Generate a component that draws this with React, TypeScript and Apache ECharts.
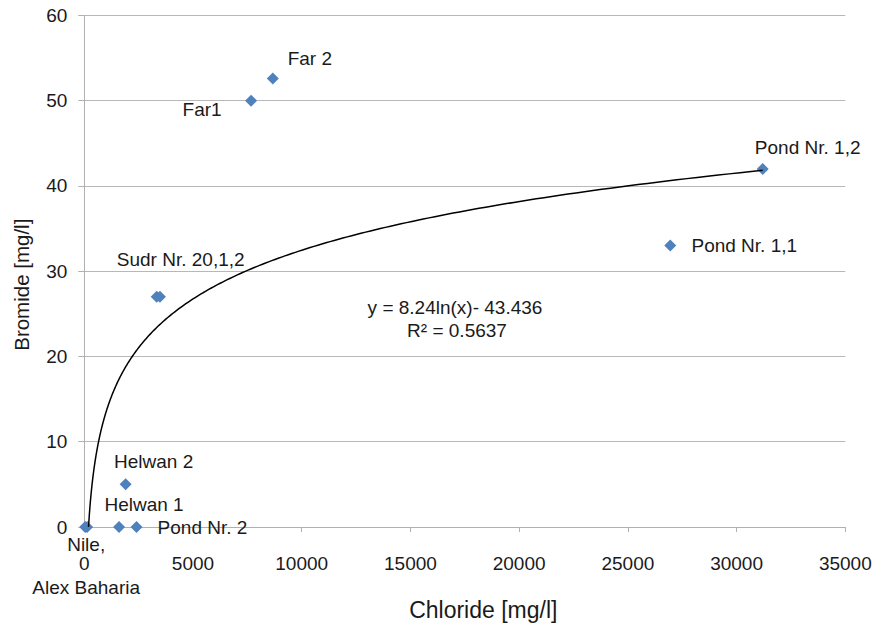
import React, { useEffect, useRef } from "react";
import * as echarts from "echarts";

const names = ["Nile", "Alex Baharia", "Helwan 1", "Pond Nr. 2", "Helwan 2", "Sudr Nr. 20,1", "Sudr Nr. 20,2", "Far1", "Far 2", "Pond Nr. 1,2", "Pond Nr. 1,1"];
const chloride = [40, 130, 1600, 2400, 1900, 3330, 3480, 7670, 8670, 31200, 26950];
const bromide = [0, 0, 0, 0, 5, 27, 27, 50, 52.6, 42, 33];
const labelTexts = ["Nile,\n\nAlex Baharia", "", "Helwan 1", "Pond Nr. 2", "Helwan 2", "Sudr Nr. 20,1,2", "", "Far1", "Far 2", "Pond Nr. 1,2", "Pond Nr. 1,1"];
const xTicks = [0, 5000, 10000, 15000, 20000, 25000, 30000, 35000];
const yTicks = [0, 10, 20, 30, 40, 50, 60];

// Logarithmic trendline shown on the chart: y = 8.24 ln(x) - 43.436
const trendA = 8.24;
const trendB = -43.436;
const trendEquation = "y = 8.24ln(x)- 43.436";
const trendR2 = "R² = 0.5637";

// label offsets (layout, separate from data)
const labelOffsets: number[][] = [
  [1, 39], [0, 0], [25, -23], [66, 0], [28, -23], [24, -37], [0, 0], [-49, 9], [37, -20], [45, -21], [74, 0],
];

const FONT = "'Liberation Sans', Arial, Helvetica, sans-serif";
const TEXT = "#1a1a1a";

export default function App() {
  const ref = useRef<HTMLDivElement>(null);
  useEffect(() => {
    document.body.style.margin = "0";
    const chart = echarts.init(ref.current!, undefined, { renderer: "svg" });

    const xStart = Math.exp(-trendB / trendA);
    const xEnd = Math.max(...chloride);
    const trend: number[][] = [];
    const n = 300;
    for (let i = 0; i <= n; i++) {
      const x = xStart * Math.pow(xEnd / xStart, i / n);
      trend.push([x, trendA * Math.log(x) + trendB]);
    }

    const pts = names.map((nm, i) => ({
      name: nm,
      value: [chloride[i], bromide[i]],
      label: {
        show: labelTexts[i] !== "",
        formatter: labelTexts[i],
        position: "inside",
        offset: labelOffsets[i],
        color: TEXT,
        textBorderWidth: 0,
        textBorderColor: "transparent",
        fontSize: 19,
        fontFamily: FONT,
        lineHeight: 21.5,
      },
    }));

    chart.setOption({
      animation: false,
      backgroundColor: "#ffffff",
      grid: { left: 84.3, right: 36.7, top: 15.4, bottom: 89.3, containLabel: false },
      xAxis: {
        type: "value",
        min: xTicks[0],
        max: xTicks[xTicks.length - 1],
        interval: 5000,
        name: "Chloride [mg/l]",
        nameLocation: "middle",
        nameGap: 71,
        nameTextStyle: { fontSize: 23, color: TEXT, fontFamily: FONT, padding: [0, 0, 0, 37] },
        axisLine: { show: true, lineStyle: { color: "#b0b0b0", width: 1 } },
        axisTick: { show: true, length: 5, lineStyle: { color: "#b0b0b0" } },
        axisLabel: { fontSize: 19, color: TEXT, fontFamily: FONT, margin: 27, formatter: (v: number) => String(v) },
        splitLine: { show: false },
      },
      yAxis: {
        type: "value",
        min: yTicks[0],
        max: yTicks[yTicks.length - 1],
        interval: 10,
        name: "Bromide [mg/l]",
        nameLocation: "middle",
        nameGap: 52,
        nameTextStyle: { fontSize: 20.5, color: TEXT, fontFamily: FONT, padding: [0, 27, 0, 0] },
        axisLine: { show: true, lineStyle: { color: "#b0b0b0", width: 1 } },
        axisTick: { show: true, length: 6, lineStyle: { color: "#b0b0b0" } },
        axisLabel: { fontSize: 19, color: TEXT, fontFamily: FONT, margin: 17, formatter: (v: number) => String(v) },
        splitLine: { show: true, lineStyle: { color: "#b8b8b8", width: 1 } },
      },
      series: [
        {
          type: "line",
          data: trend,
          showSymbol: false,
          symbol: "none",
          lineStyle: { color: "#000000", width: 1.5 },
          z: 3,
          clip: true,
        },
        {
          type: "scatter",
          data: pts,
          symbol: "diamond",
          symbolSize: 12,
          itemStyle: { color: "#4f81bd", opacity: 1 },
          z: 2,
        },
      ],
      graphic: [
        {
          type: "text",
          x: 455,
          y: 307,
          style: { text: trendEquation, fontSize: 19, fill: TEXT, fontFamily: FONT, textAlign: "center", textVerticalAlign: "middle" },
        },
        {
          type: "text",
          x: 457,
          y: 330,
          style: { text: trendR2, fontSize: 19, fill: TEXT, fontFamily: FONT, textAlign: "center", textVerticalAlign: "middle" },
        },
      ],
    });
    return () => chart.dispose();
  }, []);
  return <div ref={ref} style={{ width: 882, height: 626 }} />;
}
